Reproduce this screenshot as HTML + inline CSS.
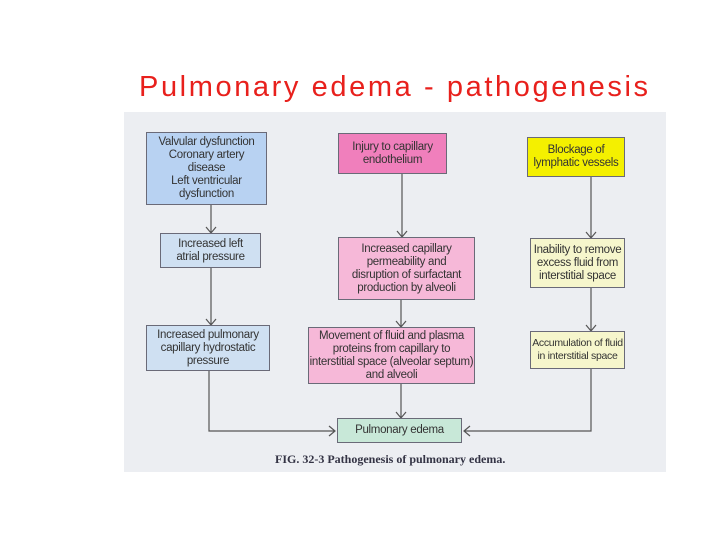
<!DOCTYPE html>
<html><head><style>
body{margin:0;width:720px;height:540px;background:#fff;position:relative;overflow:hidden;font-family:"Liberation Sans",sans-serif}
.t{position:absolute;left:139px;top:71px;font-size:29px;color:#e8201c;letter-spacing:2.6px;white-space:nowrap}
.fig{position:absolute;left:124px;top:112px;width:542px;height:360px;background:#eceef2}
.b{position:absolute;box-sizing:border-box;border:1px solid #6a6a78;display:flex;align-items:center;justify-content:center;text-align:center;font-size:11.5px;line-height:13px;color:#333;letter-spacing:-0.3px;white-space:nowrap}
.bl{background:#b8d2f2}.bl2{background:#cfe0f2}
.pk{background:#f07fbc}.pk2{background:#f6b8d8}
.y{background:#f4f000}.y2{background:#f6f6cc}
.g{background:#c8e8d8}
.cap{position:absolute;left:275px;top:452px;font-family:"Liberation Serif",serif;font-weight:bold;font-size:12px;color:#334}
</style></head><body>
<div class="t">Pulmonary edema - pathogenesis</div>
<div class="fig"></div>
<svg style="position:absolute;left:0;top:0" width="720" height="540">
<g stroke="#555" stroke-width="1.2" fill="none">
<path d="M211 205V233M206 227l5 6 5-6"/>
<path d="M211 268V325M206 319l5 6 5-6"/>
<path d="M209 371V431H335M329 426l6 5-6 5"/>
<path d="M402 174V237M397 231l5 6 5-6"/>
<path d="M401 300V327M396 321l5 6 5-6"/>
<path d="M401 384V418M396 412l5 6 5-6"/>
<path d="M591 177V238M586 232l5 6 5-6"/>
<path d="M591 288V331M586 325l5 6 5-6"/>
<path d="M591 369V431H464M470 426l-6 5 6 5"/>
</g></svg>
<div class="b bl" style="left:146px;top:132px;width:121px;height:73px">Valvular dysfunction<br>Coronary artery<br>disease<br>Left ventricular<br>dysfunction</div>
<div class="b pk" style="left:338px;top:133px;width:109px;height:41px">Injury to capillary<br>endothelium</div>
<div class="b y" style="left:527px;top:137px;width:98px;height:40px">Blockage of<br>lymphatic vessels</div>
<div class="b bl2" style="left:160px;top:233px;width:101px;height:35px">Increased left<br>atrial pressure</div>
<div class="b pk2" style="left:338px;top:237px;width:137px;height:63px">Increased capillary<br>permeability and<br>disruption of surfactant<br>production by alveoli</div>
<div class="b y2" style="left:530px;top:238px;width:95px;height:50px">Inability to remove<br>excess fluid from<br>interstitial space</div>
<div class="b bl2" style="left:146px;top:325px;width:124px;height:46px">Increased pulmonary<br>capillary hydrostatic<br>pressure</div>
<div class="b pk2" style="left:308px;top:327px;width:167px;height:57px">Movement of fluid and plasma<br>proteins from capillary to<br>interstitial space (alveolar septum)<br>and alveoli</div>
<div class="b y2" style="left:530px;top:331px;width:95px;height:38px;font-size:10.5px">Accumulation of fluid<br>in interstitial space</div>
<div class="b g" style="left:337px;top:418px;width:125px;height:25px">Pulmonary edema</div>
<div class="cap">FIG. 32-3 Pathogenesis of pulmonary edema.</div>
</body></html>
